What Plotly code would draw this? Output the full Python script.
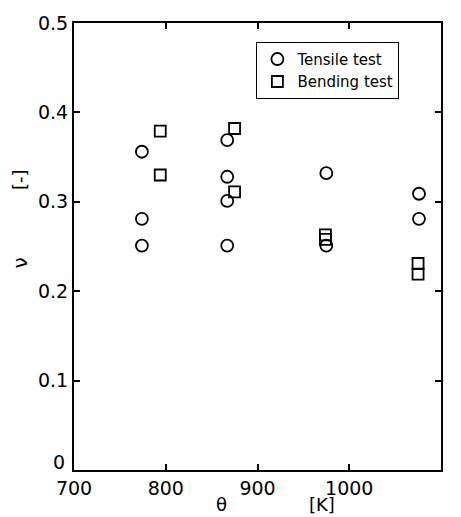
import plotly.graph_objects as go

# Tensile test (circles)
tensile_T = [774, 774, 774, 867, 867, 867, 867, 975, 975, 1076, 1076]
tensile_v = [0.356, 0.281, 0.251, 0.369, 0.328, 0.301, 0.251, 0.332, 0.251, 0.309, 0.281]

# Bending test (squares)
bending_T = [794, 794, 875, 875, 974, 974, 1075, 1075]
bending_v = [0.379, 0.330, 0.382, 0.311, 0.263, 0.258, 0.231, 0.219]

x_ticks = [700, 800, 900, 1000, 1100]
y_ticks = [0.1, 0.2, 0.3, 0.4, 0.5]
y_tick_text = ["0.1", "0.2", "0.3", "0.4", "0.5"]

FONT = "DejaVu Sans"

fig = go.Figure()
fig.add_trace(go.Scatter(
    x=tensile_T, y=tensile_v, mode="markers", name="Tensile test",
    marker=dict(symbol="circle-open", size=12, color="black", line=dict(width=1.8, color="black")),
))
fig.add_trace(go.Scatter(
    x=bending_T, y=bending_v, mode="markers", name="Bending test",
    marker=dict(symbol="square-open", size=11, color="black", line=dict(width=1.8, color="black")),
))

axis_common = dict(
    showline=True, linecolor="black", linewidth=2, mirror="ticks",
    ticks="inside", ticklen=6, tickwidth=1.5, tickcolor="black",
    showgrid=False, zeroline=False,
    tickfont=dict(family=FONT, size=19, color="black"),
)

fig.update_xaxes(range=[700, 1100], tickvals=x_ticks, **axis_common)
fig.update_yaxes(range=[0, 0.5], tickvals=y_ticks, ticktext=y_tick_text, **axis_common)

fig.update_layout(
    width=461, height=517,
    margin=dict(l=74, r=20, t=20, b=47),
    plot_bgcolor="white", paper_bgcolor="white",
    showlegend=True,
    legend=dict(
        x=0.497, y=0.958, xanchor="left", yanchor="top",
        bordercolor="black", borderwidth=1, bgcolor="white",
        font=dict(family=FONT, size=15, color="black"),
        tracegroupgap=0, itemwidth=30,
    ),
    annotations=[
        dict(text="0", x=0, y=0, xref="paper", yref="y",
             xanchor="right", yanchor="middle", xshift=-7, yshift=8, showarrow=False,
             font=dict(family=FONT, size=19, color="black")),
        dict(text="θ", x=0.403, y=-0.078, xref="paper", yref="paper",
             xanchor="center", yanchor="middle", showarrow=False,
             font=dict(family=FONT, size=18, color="black")),
        dict(text="[K]", x=0.676, y=-0.078, xref="paper", yref="paper",
             xanchor="center", yanchor="middle", showarrow=False,
             font=dict(family=FONT, size=18, color="black")),
        dict(text="ν", x=-0.147, y=0.462, xref="paper", yref="paper",
             xanchor="center", yanchor="middle", showarrow=False, textangle=-90,
             font=dict(family=FONT, size=20, color="black")),
        dict(text="[-]", x=-0.147, y=0.649, xref="paper", yref="paper",
             xanchor="center", yanchor="middle", showarrow=False, textangle=-90,
             font=dict(family=FONT, size=18, color="black")),
    ],
)

fig.write_html("out.html", config={"displayModeBar": False},
               post_script="document.body.style.margin='0';")
